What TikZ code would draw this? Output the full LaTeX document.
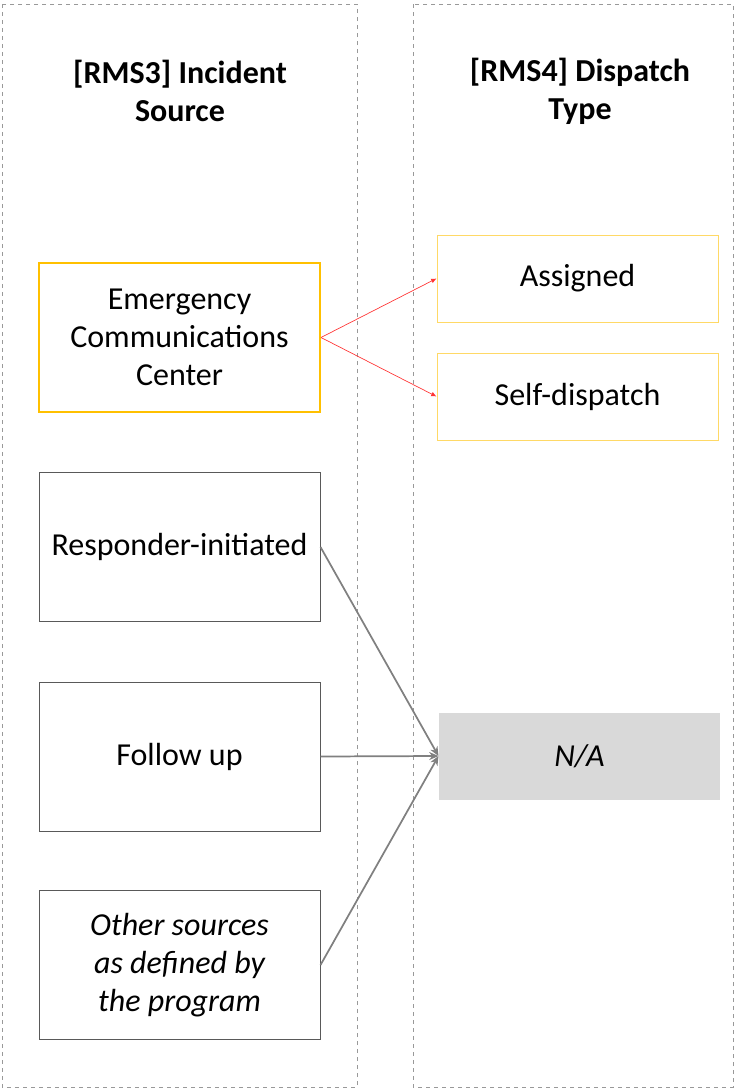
\documentclass[tikz,border=0pt]{standalone}
\usepackage{fontspec}
\setmainfont{Carlito}
\usetikzlibrary{arrows.meta}
\definecolor{ecorange}{HTML}{FFC000}
\definecolor{lightorange}{HTML}{FFD966}
\definecolor{nagray}{HTML}{D9D9D9}
\tikzset{
  column frame/.style={
    draw=gray!80,
    dashed,
    line width=0.6pt
  },
  head label/.style={
    font=\fontsize{24}{28.5}\selectfont\bfseries,
    align=center
  },
  source box/.style={
    draw=black!65,
    line width=0.75pt,
    minimum width=210.75pt,
    minimum height=111.75pt,
    align=center,
    font=\fontsize{24}{28.5}\selectfont
  },
  type box/.style={
    draw=lightorange,
    line width=0.75pt,
    minimum width=210.75pt,
    minimum height=65.25pt,
    align=center,
    font=\fontsize{24}{28.5}\selectfont
  },
  dispatch arrow/.style={
    -{Latex[length=4pt, width=3.5pt]},
    line width=0.5pt,
    color=red!80
  },
  na arrow/.style={
    -{Stealth[length=7pt, width=6pt]},
    line width=1.3pt,
    color=gray
  }
}

\begin{document}
\begin{tikzpicture}[x=0.75pt, y=-0.75pt]
    \useasboundingbox (0,0) rectangle (736,1089);

    % columns
    \draw[column frame] (2,4) rectangle (357,1087);
    \draw[column frame] (413,4) rectangle (733,1087);
    \node[head label] (srchead) at (180,91) {[RMS3] Incident\\Source};
    \node[head label] (typehead) at (580,91) {[RMS4] Dispatch\\Type};

    % incident sources
    \node[source box, draw=ecorange, line width=1.5pt] (ecc) at (179.5,337.5)
      {Emergency\\Communications\\Center};
    \node[source box] (resp) at (179.5,547) {Responder-initiated};
    \node[source box] (follow) at (179.5,756.5) {Follow up};
    \node[source box] (other) at (179.5,965)
      {\itshape Other sources\\\itshape as defined by\\\itshape the program};

    % dispatch types
    \node[type box] (assigned) at (577.5,278.5) {Assigned};
    \node[type box] (selfdisp) at (577.5,396.5) {Self-dispatch};
    \node[type box, draw=none, fill=nagray] (na) at (579.5,756) {\itshape N/A};

    % mappings
    \draw[dispatch arrow] (ecc.east) -- (assigned.west);
    \draw[dispatch arrow] (ecc.east) -- (selfdisp.west);
    \draw[na arrow] (resp.east) -- (na.west);
    \draw[na arrow] (follow.east) -- (na.west);
    \draw[na arrow] (other.east) -- (na.west);

\end{tikzpicture}
\end{document}
